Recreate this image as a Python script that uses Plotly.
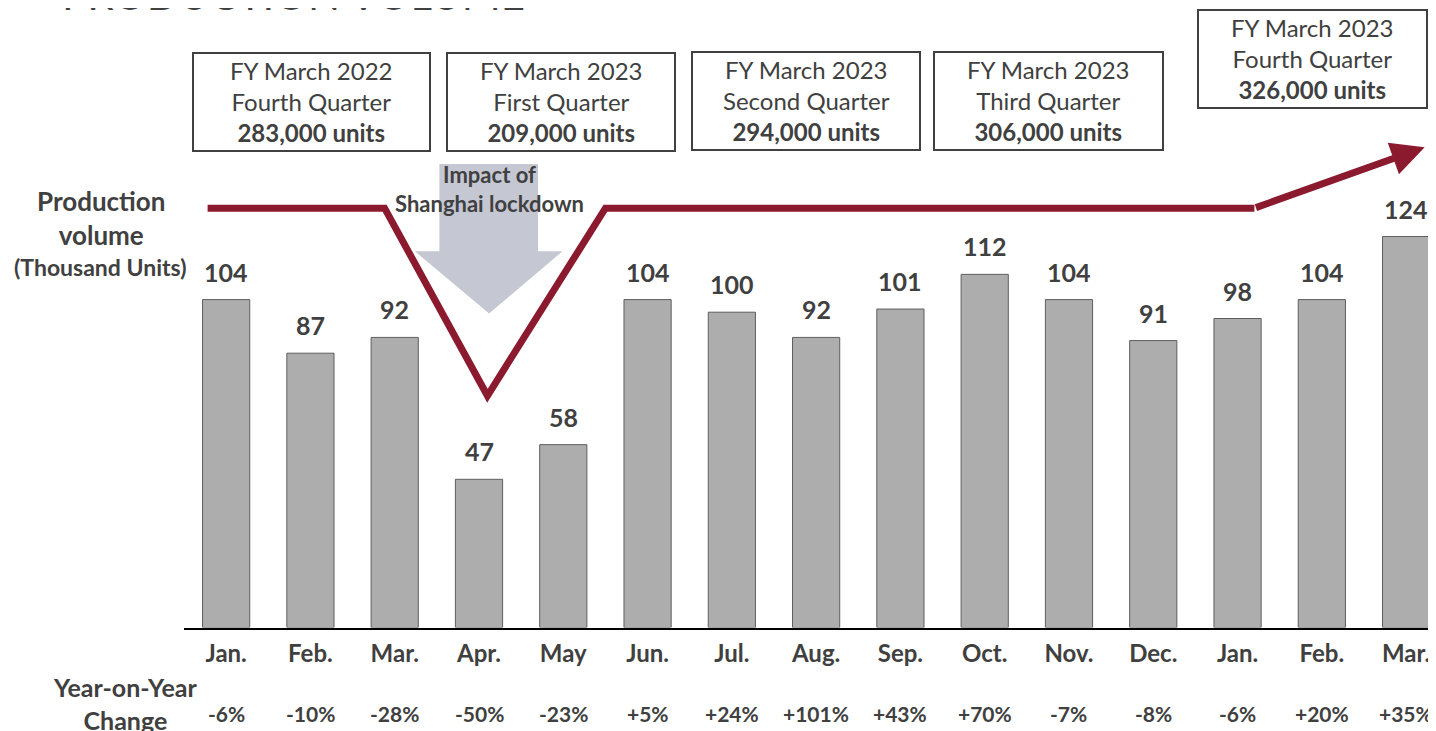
import plotly.graph_objects as go

months = ['Jan.', 'Feb.', 'Mar.', 'Apr.', 'May', 'Jun.', 'Jul.', 'Aug.', 'Sep.',
          'Oct.', 'Nov.', 'Dec.', 'Jan.', 'Feb.', 'Mar.']
volume = [104, 87, 92, 47, 58, 104, 100, 92, 101, 112, 104, 91, 98, 104, 124]
yoy = ['-6%', '-10%', '-28%', '-50%', '-23%', '+5%', '+24%', '+101%', '+43%',
       '+70%', '-7%', '-8%', '-6%', '+20%', '+35%']
quarter_names = ['FY March 2022<br>Fourth Quarter', 'FY March 2023<br>First Quarter',
                 'FY March 2023<br>Second Quarter', 'FY March 2023<br>Third Quarter',
                 'FY March 2023<br>Fourth Quarter']
quarter_units = ['283,000 units', '209,000 units', '294,000 units', '306,000 units',
                 '326,000 units']

# the page body has an 8px margin, so the figure is 8px smaller and shifted
OFF = 8
W, H = 1436 - OFF, 731 - OFF
FONT = 'Lato'
DARK = '#404040'
MAROON = '#8C1A2F'

def px(x):
    return (x - OFF) / W

def py(y):
    return 1 - (y - OFF) / H

# decorative trend line (month index, thousand units)
trend_x = [-0.22, 1.88, 3.1, 4.5, 12.2]
trend_y = [133, 133, 73.5, 133, 133]
tip_x, tip_y = 14.22, 152.3

# grey "lockdown" arrow
lock_x = [2.53, 3.70, 3.70, 3.99, 3.12, 2.24, 2.53, 2.53]
lock_y = [147, 147, 119.3, 119.3, 99.6, 119.3, 119.3, 147]

fig = go.Figure()

fig.add_trace(go.Bar(x=list(range(len(volume))), y=volume, width=0.56,
                     marker=dict(color='#ADADAD', line=dict(color='#5E5E5E', width=1)),
                     hoverinfo='skip'))

fig.add_trace(go.Scatter(x=lock_x, y=lock_y, fill='toself', fillcolor='#C5C8D3',
                         mode='lines', line=dict(width=0), hoverinfo='skip'))

fig.add_trace(go.Scatter(x=trend_x, y=trend_y, mode='lines',
                         line=dict(color=MAROON, width=7), hoverinfo='skip'))

fig.add_annotation(x=tip_x, y=tip_y, ax=trend_x[-1], ay=trend_y[-1],
                   xref='x', yref='y', axref='x', ayref='y', text='',
                   showarrow=True, arrowhead=2, arrowsize=0.95, arrowwidth=7,
                   arrowcolor=MAROON, standoff=0)

# value labels
for i, v in enumerate(volume):
    fig.add_annotation(x=i, y=v, xref='x', yref='y', text='<b>%d</b>' % v,
                       showarrow=False, xanchor='center', yanchor='middle', yshift=28,
                       font=dict(family=FONT, size=25, color=DARK))

# year-on-year row
for i, t in enumerate(yoy):
    fig.add_annotation(x=i, y=py(713), xref='x', yref='paper', text='<b>%s</b>' % t,
                       showarrow=False, xanchor='center', yanchor='middle',
                       font=dict(family=FONT, size=21, color=DARK))

def label(x, y, text, size):
    fig.add_annotation(x=px(x), y=py(y), xref='paper', yref='paper', text=text,
                       showarrow=False, xanchor='center', yanchor='middle',
                       font=dict(family=FONT, size=size, color=DARK))

label(125, 703, '<b>Year-on-Year<br>Change</b>', 25)
label(101, 218, '<b>Production<br>volume</b>', 26)
label(100, 267, '<b>(Thousand Units)</b>', 23)

fig.add_annotation(x=3.12, y=py(189), xref='x', yref='paper',
                   text='<b>Impact of<br>Shanghai lockdown</b>', showarrow=False,
                   xanchor='center', yanchor='middle',
                   font=dict(family=FONT, size=22, color=DARK))

# title (mostly cut off at the top of the slide)
fig.add_annotation(x=px(60), y=py(21), xref='paper', yref='paper', xanchor='left',
                   yanchor='bottom', text='PRODUCTION VOLUME', showarrow=False,
                   font=dict(family=FONT, size=42, color=DARK))

# quarter boxes
boxes = [(193, 430, 53, 151), (447, 675, 53, 151), (692, 920, 52, 150),
         (934, 1163, 52, 150), (1198, 1427, 10, 108)]
for (x0, x1, y0, y1), name, units in zip(boxes, quarter_names, quarter_units):
    fig.add_shape(type='rect', xref='paper', yref='paper',
                  x0=px(x0), x1=px(x1), y0=py(y0), y1=py(y1),
                  line=dict(color=DARK, width=2), fillcolor='white')
    label((x0 + x1) / 2, (y0 + y1) / 2, '%s<br><b>%s</b>' % (name, units), 24)

fig.update_xaxes(domain=[px(184), 1], range=[-0.5, 14.45 - OFF / 83.71],
                 tickvals=list(range(len(months))),
                 ticktext=['<b>%s</b>' % m for m in months],
                 tickfont=dict(family=FONT, size=24, color=DARK),
                 ticks='outside', ticklen=4, tickcolor='rgba(0,0,0,0)',
                 showline=True, linecolor='black', linewidth=1.5,
                 showgrid=False, zeroline=False, fixedrange=True)
fig.update_yaxes(domain=[py(627.5), 1], range=[0, (627.5 - OFF) / 3.153], visible=False,
                 fixedrange=True)

fig.update_layout(width=W, height=H, margin=dict(l=0, r=0, t=0, b=0),
                  plot_bgcolor='white', paper_bgcolor='white', showlegend=False,
                  font=dict(family=FONT, color=DARK))

fig.write_html("out.html")
